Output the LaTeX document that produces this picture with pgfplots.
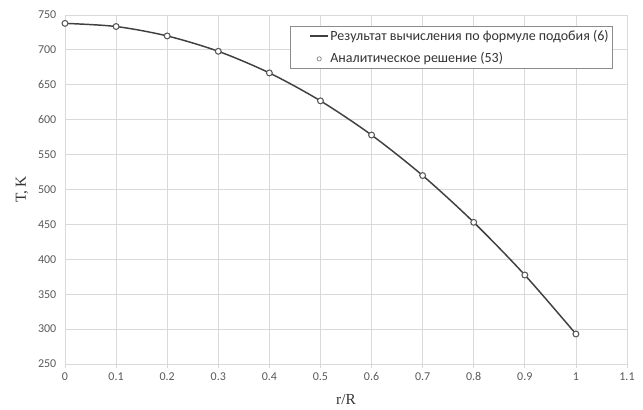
\documentclass[border=0pt]{standalone}
\usepackage{fontspec}
\setmainfont{Carlito}
\newfontfamily\labelfont{Liberation Serif}
\usepackage{pgfplots}
\pgfplotsset{compat=1.18}

\definecolor{gridgray}{HTML}{D9D9D9}
\definecolor{ticktext}{HTML}{595959}
\definecolor{curve}{HTML}{404040}

\begin{document}
\begin{tikzpicture}
% fix the page to the reference proportions (643x410 px, 1px = 0.75pt)
\useasboundingbox (-48.75pt,-34.5pt) rectangle (433.5pt,273pt);
\begin{axis}[
    scale only axis,
    width=421.5pt,
    height=261.75pt,
    xmin=0, xmax=1.1,
    ymin=250, ymax=750,
    xtick={0,0.1,...,1.1},
    ytick={250,300,...,750},
    /pgf/number format/assume math mode=true,
    xticklabel style={/pgf/number format/fixed, /pgf/number format/precision=1},
    tick label style={font=\fontsize{9}{10}\selectfont, text=ticktext},
    grid=major,
    major grid style={gridgray, line width=0.6pt},
    axis line style={gridgray, line width=0.6pt},
    tick style={gridgray, line width=0.6pt},
    tick align=outside,
    major tick length=3pt,
    xtick pos=bottom, ytick pos=left,
    ytick style={draw=none},
    xlabel={r/R},
    ylabel={T, K},
    xlabel style={font=\labelfont\fontsize{11.5}{13}\selectfont, text=ticktext!60!black,
        at={(axis description cs:0.5,-0.103)}, anchor=center},
    ylabel style={font=\labelfont\fontsize{11.5}{13}\selectfont, text=ticktext!60!black,
        at={(axis description cs:-0.0765,0.5)}, anchor=center},
    legend style={
        at={(0.975,0.968)}, anchor=north east,
        draw=black!45, line width=0.5pt,
        font=\fontsize{10.5}{12}\selectfont, text=black!80,
        inner xsep=2pt, inner ysep=0.5pt,
        row sep=4pt,
        nodes={inner xsep=1pt, inner ysep=2pt},
        legend cell align=left,
    },
    legend image code/.code={
        \path[draw=none] (-0.45cm,0cm) -- (0cm,0cm);
        \draw[#1, mark repeat=2, mark phase=2] plot coordinates {(0cm,0cm) (0.24cm,0cm) (0.48cm,0cm)};
    },
]

% result of the similarity formula (6)
\addplot[curve, line width=1.1pt, smooth, no markers] coordinates {
    (0,738) (0.1,733.5) (0.2,720) (0.3,698) (0.4,667) (0.5,627)
    (0.6,578) (0.7,520) (0.8,453) (0.9,377.5) (1,293)
};
\addlegendentry{Результат вычисления по формуле подобия (6)}

% analytical solution (53)
\addplot[only marks, mark=*, mark size=2.2pt,
    mark options={fill=white, draw=black!65, line width=0.8pt},
    forget plot] coordinates {
    (0,738) (0.1,733.5) (0.2,720) (0.3,698) (0.4,667) (0.5,627)
    (0.6,578) (0.7,520) (0.8,453) (0.9,377.5) (1,293)
};
\addlegendimage{only marks, mark=*, mark size=1.6pt,
    mark options={fill=white, draw=black!50, line width=0.5pt}}
\addlegendentry{Аналитическое решение (53)}

\end{axis}
\end{tikzpicture}
\end{document}
